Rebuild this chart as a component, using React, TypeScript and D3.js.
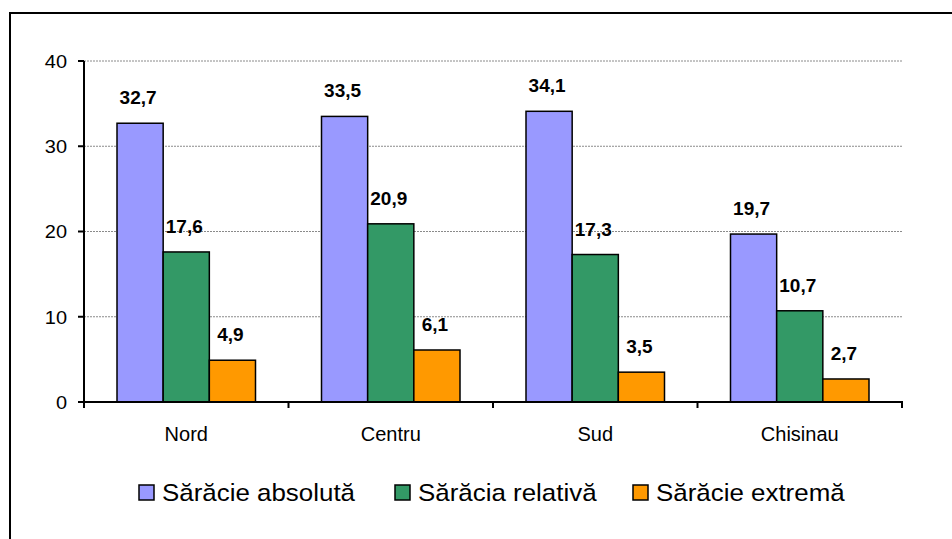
import React from "react";
import * as d3 from "d3";

const categories = ["Nord", "Centru", "Sud", "Chisinau"];
const seriesNames = ["Sărăcie absolută", "Sărăcia relativă", "Sărăcie extremă"];
const absoluta = [32.7, 33.5, 34.1, 19.7];
const relativa = [17.6, 20.9, 17.3, 10.7];
const extrema = [4.9, 6.1, 3.5, 2.7];
const yTicks = [0, 10, 20, 30, 40];
const colors = ["#9999FF", "#339966", "#FF9900"];

const W = 952;
const H = 539;
const FONT = "'Liberation Sans', Arial, sans-serif";

function T(props: { x: number; y: number; sx?: number; size: number; anchor?: string; bold?: boolean; dy?: string; children: React.ReactNode }) {
  const { x, y, sx = 1, size, anchor = "start", bold, dy, children } = props;
  return (
    <text
      transform={`translate(${x},${y}) scale(${sx},1)`}
      dy={dy}
      textAnchor={anchor}
      fontSize={size}
      fontWeight={bold ? "bold" : "normal"}
      fill="#000"
    >
      {children}
    </text>
  );
}

export default function App() {
  const series = [absoluta, relativa, extrema];
  const x = d3.scaleBand<string>().domain(categories).range([84, 902]).paddingInner(0).paddingOuter(0);
  const bw = x.bandwidth();
  const xs = d3.scaleBand<number>().domain([0, 1, 2]).range([33, bw - 33]).padding(0);
  const y = d3.scaleLinear().domain([0, 40]).range([402, 61]);
  const fmt = (v: number) => v.toFixed(1).replace(".", ",");
  const legendX = [139, 395, 633];

  return (
    <svg width={W} height={H} style={{ position: "absolute", left: 0, top: 0, background: "#fff" }} fontFamily={FONT}>
      <rect x={10} y={13} width={1000} height={1000} fill="#fff" stroke="#000" strokeWidth={2} />
      {yTicks.filter((t) => t > 0).map((t) => (
        <line key={"g" + t} x1={84} x2={902} y1={y(t)} y2={y(t)} stroke="#8a8a8a" strokeWidth={1} strokeDasharray="2,1" />
      ))}
      {categories.map((c, i) =>
        series.map((s, j) => {
          const bx = (x(c) as number) + (xs(j) as number);
          return (
            <rect key={c + j} x={bx} y={y(s[i])} width={xs.bandwidth()} height={y(0) - y(s[i])} fill={colors[j]} stroke="#000" strokeWidth={1.5} />
          );
        })
      )}
      {categories.map((c, i) =>
        series.map((s, j) => {
          const bx = (x(c) as number) + (xs(j) as number) + xs.bandwidth() / 2;
          return (
            <T key={"l" + c + j} x={bx - 2} y={y(s[i]) - 19} anchor="middle" bold size={19}>
              {fmt(s[i])}
            </T>
          );
        })
      )}
      {/* y axis */}
      <line x1={84} x2={84} y1={61} y2={402} stroke="#000" strokeWidth={2} />
      {yTicks.map((t) => (
        <g key={"t" + t}>
          <line x1={78} x2={84} y1={y(t)} y2={y(t)} stroke="#000" strokeWidth={2} />
          <T x={67} y={y(t)} dy="0.36em" anchor="end" size={19} sx={1.05}>
            {t}
          </T>
        </g>
      ))}
      {/* x axis */}
      <line x1={84} x2={903} y1={402} y2={402} stroke="#000" strokeWidth={2} />
      {[...categories.map((c) => x(c) as number), 902].map((v, i) => (
        <line key={"xt" + i} x1={v} x2={v} y1={402} y2={408} stroke="#000" strokeWidth={2} />
      ))}
      {categories.map((c) => (
        <T key={"c" + c} x={(x(c) as number) + bw / 2} y={441} anchor="middle" size={20}>
          {c}
        </T>
      ))}
      {/* legend */}
      {seriesNames.map((n, j) => (
        <g key={"lg" + j}>
          <rect x={legendX[j]} y={485} width={15} height={15} fill={colors[j]} stroke="#000" strokeWidth={1.5} />
          <T x={legendX[j] + 23} y={501} size={24} sx={1.08}>
            {n}
          </T>
        </g>
      ))}
    </svg>
  );
}
